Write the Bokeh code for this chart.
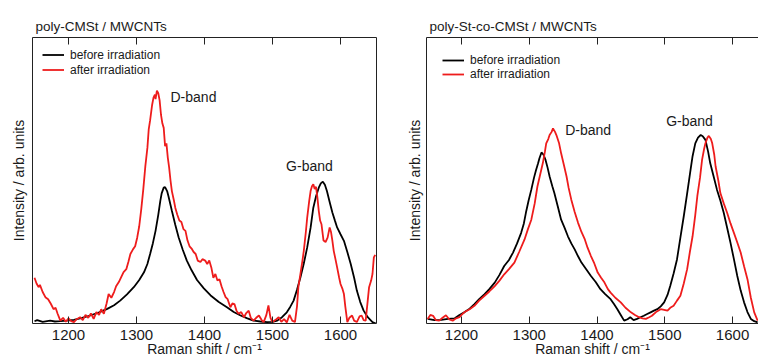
from bokeh.plotting import figure
from bokeh.models import LinearAxis, FixedTicker, Range1d, Label, Legend, LegendItem
from bokeh.layouts import row
from bokeh.embed import file_html
from bokeh.resources import INLINE

FONT = "Liberation Sans"
TXT = "#1a1a1a"
RED = "#ee1c1c"
BLK = "#000000"

x_ticks = [1200, 1300, 1400, 1500, 1600]
x_title = "Raman shift / cm\u207b\u00b9"
y_title = "Intensity / arb. units"
legend_labels = ["before irradiation", "after irradiation"]
band_labels = ["D-band", "G-band"]

# ---- left panel: poly-CMSt / MWCNTs ----
left_title = "poly-CMSt / MWCNTs"
left_before_x = [1150, 1154, 1162, 1173, 1180, 1188, 1198, 1208, 1220, 1232, 1245, 1257, 1267, 1276, 1286, 1296,
                 1304, 1311, 1316, 1320, 1324, 1328, 1332, 1335, 1337, 1340, 1342, 1345, 1347, 1352, 1357, 1362,
                 1368, 1374, 1381, 1389, 1399, 1409, 1421, 1433, 1443, 1453, 1463, 1472, 1482, 1492, 1500, 1507,
                 1514, 1521, 1526, 1531, 1536, 1541, 1546, 1551, 1556, 1560, 1564, 1568, 1571, 1574, 1577, 1580,
                 1584, 1588, 1592, 1595, 1600, 1605, 1610, 1615, 1620, 1624, 1629, 1634, 1640, 1647, 1652]
left_before_y = [0.008, 0.012, 0.006, 0.010, 0.007, 0.008, 0.010, 0.013, 0.020, 0.028, 0.039, 0.051, 0.064, 0.080, 0.102, 0.127,
                 0.152, 0.179, 0.208, 0.243, 0.280, 0.324, 0.380, 0.429, 0.455, 0.475, 0.477, 0.463, 0.445, 0.394, 0.345, 0.301,
                 0.258, 0.220, 0.186, 0.152, 0.123, 0.098, 0.075, 0.057, 0.040, 0.028, 0.018, 0.010, 0.007, 0.005, 0.006, 0.010,
                 0.022, 0.039, 0.058, 0.080, 0.118, 0.161, 0.210, 0.266, 0.335, 0.405, 0.445, 0.475, 0.490, 0.496, 0.485, 0.463,
                 0.425, 0.388, 0.358, 0.336, 0.312, 0.289, 0.250, 0.208, 0.160, 0.115, 0.075, 0.045, 0.022, 0.005, 0.000]

left_after_x = [1150, 1153, 1156, 1158, 1162, 1166, 1170, 1174, 1178, 1181, 1184, 1188, 1192, 1196, 1200, 1204, 1208,
                1212, 1217, 1221, 1225, 1229, 1233, 1237, 1241, 1245, 1248, 1252, 1256, 1259, 1263, 1267, 1270, 1274,
                1278, 1281, 1285, 1288, 1291, 1295, 1298, 1301, 1304, 1307, 1310, 1313, 1316, 1318, 1320, 1323, 1325,
                1327, 1328, 1330, 1332, 1334, 1336, 1338, 1340, 1342, 1344, 1346, 1348, 1350, 1352, 1355, 1357, 1360,
                1363, 1366, 1369, 1372, 1375, 1378, 1381, 1384, 1387, 1390, 1394, 1397, 1401, 1404, 1407, 1410, 1413,
                1416, 1419, 1422, 1425, 1428, 1431, 1434, 1438, 1441, 1444, 1447, 1450, 1454, 1458, 1461, 1465, 1468,
                1472, 1476, 1480, 1484, 1487, 1491, 1494, 1497, 1500, 1504, 1509, 1513, 1517, 1521, 1525, 1529, 1533,
                1536, 1538, 1541, 1544, 1546, 1549, 1551, 1554, 1556, 1558, 1560, 1562, 1564, 1566, 1568, 1570, 1572,
                1575, 1578, 1581, 1584, 1586, 1588, 1590, 1593, 1595, 1598, 1600, 1603, 1605, 1607, 1610, 1613, 1617,
                1620, 1624, 1628, 1631, 1634, 1637, 1640, 1642, 1645, 1647, 1649, 1651]
left_after_y = [0.160, 0.140, 0.127, 0.135, 0.110, 0.092, 0.085, 0.069, 0.050, 0.055, 0.034, 0.010, 0.020, 0.006, 0.018, 0.008, 0.005,
                0.015, 0.022, 0.012, 0.030, 0.020, 0.035, 0.016, 0.040, 0.030, 0.050, 0.034, 0.070, 0.103, 0.090, 0.110, 0.130, 0.145,
                0.165, 0.180, 0.190, 0.215, 0.243, 0.260, 0.270, 0.300, 0.340, 0.400, 0.470, 0.550, 0.614, 0.680, 0.710, 0.765, 0.790,
                0.800, 0.785, 0.814, 0.805, 0.780, 0.730, 0.700, 0.684, 0.620, 0.630, 0.580, 0.545, 0.500, 0.463, 0.430, 0.405, 0.380,
                0.360, 0.355, 0.330, 0.324, 0.290, 0.270, 0.262, 0.250, 0.243, 0.220, 0.215, 0.225, 0.220, 0.208, 0.220, 0.196, 0.160,
                0.173, 0.150, 0.155, 0.130, 0.110, 0.092, 0.085, 0.057, 0.070, 0.068, 0.045, 0.034, 0.040, 0.022, 0.035, 0.045, 0.020,
                0.010, 0.020, 0.028, 0.012, 0.005, 0.030, 0.063, 0.020, 0.005, 0.012, 0.022, 0.006, 0.015, 0.004, 0.030, 0.010, 0.005,
                0.060, 0.127, 0.173, 0.220, 0.254, 0.320, 0.370, 0.430, 0.463, 0.480, 0.487, 0.470, 0.478, 0.440, 0.394, 0.360, 0.347,
                0.290, 0.285, 0.300, 0.336, 0.320, 0.290, 0.254, 0.220, 0.196, 0.160, 0.138, 0.120, 0.103, 0.060, 0.005, 0.020, 0.028,
                0.010, 0.005, 0.025, 0.028, 0.012, 0.010, 0.080, 0.127, 0.150, 0.173, 0.231, 0.240]

# ---- right panel: poly-St-co-CMSt / MWCNTs ----
right_title = "poly-St-co-CMSt / MWCNTs"
right_before_x = [1150, 1160, 1170, 1180, 1190, 1197, 1204, 1212, 1219, 1226, 1234, 1241, 1249, 1256, 1263, 1270, 1276,
                  1282, 1288, 1292, 1295, 1299, 1303, 1307, 1310, 1313, 1315, 1318, 1321, 1324, 1327, 1330, 1334, 1337,
                  1342, 1347, 1352, 1357, 1362, 1367, 1372, 1377, 1384, 1391, 1398, 1405, 1412, 1420, 1425, 1430, 1435,
                  1440, 1445, 1449, 1454, 1459, 1464, 1469, 1474, 1479, 1484, 1489, 1494, 1499, 1504, 1508, 1513, 1518,
                  1523, 1528, 1533, 1538, 1541, 1545, 1549, 1553, 1556, 1560, 1564, 1567, 1572, 1577, 1582, 1587, 1592,
                  1597, 1602, 1607, 1612, 1617, 1622, 1627, 1632, 1637]
right_before_y = [0.016, 0.012, 0.013, 0.016, 0.018, 0.030, 0.039, 0.052, 0.068, 0.085, 0.103, 0.120, 0.143, 0.170, 0.201, 0.222, 0.248,
                  0.280, 0.317, 0.350, 0.387, 0.430, 0.468, 0.510, 0.537, 0.560, 0.578, 0.598, 0.590, 0.572, 0.545, 0.514, 0.480, 0.456,
                  0.410, 0.363, 0.335, 0.305, 0.280, 0.259, 0.235, 0.213, 0.190, 0.166, 0.145, 0.120, 0.103, 0.085, 0.068, 0.050, 0.030,
                  0.010, 0.015, 0.022, 0.012, 0.016, 0.022, 0.027, 0.033, 0.039, 0.045, 0.050, 0.060, 0.074, 0.100, 0.131, 0.175, 0.224,
                  0.300, 0.375, 0.455, 0.537, 0.585, 0.630, 0.650, 0.659, 0.655, 0.642, 0.600, 0.561, 0.515, 0.468, 0.430, 0.387, 0.335,
                  0.282, 0.225, 0.166, 0.115, 0.074, 0.040, 0.016, 0.008, 0.004]

right_after_x = [1150, 1154, 1158, 1162, 1167, 1172, 1177, 1182, 1187, 1192, 1197, 1200, 1204, 1212, 1219, 1226, 1234,
                 1241, 1249, 1256, 1263, 1270, 1278, 1285, 1293, 1298, 1303, 1308, 1312, 1316, 1320, 1323, 1325, 1328,
                 1330, 1333, 1335, 1338, 1340, 1344, 1347, 1351, 1355, 1358, 1362, 1367, 1372, 1377, 1382, 1386, 1391,
                 1396, 1401, 1406, 1411, 1416, 1420, 1427, 1435, 1442, 1450, 1456, 1462, 1467, 1472, 1477, 1481, 1487,
                 1494, 1499, 1504, 1508, 1513, 1518, 1523, 1528, 1533, 1537, 1541, 1545, 1548, 1552, 1555, 1558, 1560,
                 1563, 1565, 1568, 1570, 1573, 1575, 1579, 1582, 1587, 1592, 1597, 1602, 1607, 1612, 1617, 1622, 1627,
                 1632, 1637]
right_after_y = [0.016, 0.030, 0.027, 0.012, 0.010, 0.020, 0.029, 0.014, 0.010, 0.018, 0.022, 0.030, 0.039, 0.050, 0.062, 0.080, 0.097,
                 0.112, 0.131, 0.150, 0.172, 0.190, 0.213, 0.250, 0.294, 0.330, 0.363, 0.420, 0.479, 0.520, 0.561, 0.600, 0.630, 0.645,
                 0.659, 0.670, 0.682, 0.670, 0.659, 0.630, 0.595, 0.555, 0.514, 0.475, 0.433, 0.390, 0.352, 0.320, 0.294, 0.265, 0.236,
                 0.210, 0.178, 0.160, 0.143, 0.120, 0.108, 0.090, 0.074, 0.055, 0.039, 0.030, 0.022, 0.018, 0.016, 0.022, 0.027, 0.040,
                 0.050, 0.048, 0.045, 0.055, 0.062, 0.080, 0.097, 0.140, 0.190, 0.250, 0.305, 0.380, 0.445, 0.510, 0.572, 0.610, 0.630,
                 0.650, 0.656, 0.645, 0.630, 0.590, 0.549, 0.500, 0.456, 0.420, 0.387, 0.350, 0.317, 0.283, 0.248, 0.200, 0.155, 0.090,
                 0.039, 0.010]

# label anchor positions (data coords)
left_band_pos = [(1350, 0.793), (1520, 0.549)]
right_band_pos = [(1353, 0.678), (1502, 0.708)]


def make_panel(title, width, x_start, x_end, min_left, min_right, top, bottom,
               bx, by, ax, ay, band_pos, legend_margin, legend_row_h, has_right, ylab_standoff, title_standoff):
    p = figure(width=width, height=360, output_backend="svg", toolbar_location=None,
               x_range=Range1d(x_start, x_end), y_range=Range1d(0, 1),
               min_border_left=min_left, min_border_right=min_right,
               min_border_top=top, min_border_bottom=bottom,
               x_axis_location=None, y_axis_location=None)
    p.outline_line_color = None
    p.xgrid.visible = False
    p.ygrid.visible = False
    p.background_fill_color = "white"
    p.border_fill_color = "white"

    p.title.text = title
    p.title.text_font = FONT
    p.title.text_font_size = "13.5px"
    p.title.text_font_style = "normal"
    p.title.text_color = TXT
    p.title.align = "left"
    p.title.offset = 3
    p.title.standoff = title_standoff

    xb = LinearAxis(ticker=FixedTicker(ticks=x_ticks), axis_label=x_title)
    xb.major_tick_in = 7
    xb.major_tick_out = 0
    xb.minor_tick_line_color = None
    xb.major_label_text_font = FONT
    xb.major_label_text_font_size = "15px"
    xb.major_label_text_color = TXT
    xb.major_label_standoff = 6
    xb.axis_label_text_font = FONT
    xb.axis_label_text_font_size = "14px"
    xb.axis_label_text_font_style = "normal"
    xb.axis_label_text_color = TXT
    xb.axis_label_standoff = -2
    xb.axis_line_color = "#222222"
    xb.major_tick_line_color = "#222222"
    p.add_layout(xb, "below")

    # top frame edge with inward ticks, labels hidden (not drawn)
    xt = LinearAxis(ticker=FixedTicker(ticks=x_ticks))
    xt.major_tick_in = 7
    xt.major_tick_out = 0
    xt.minor_tick_line_color = None
    xt.major_label_text_font_size = "0px"
    xt.major_label_text_alpha = 0
    xt.major_label_text_color = None
    xt.major_label_standoff = 0
    xt.axis_line_color = "#222222"
    xt.major_tick_line_color = "#222222"
    p.add_layout(xt, "above")

    yl = LinearAxis(ticker=FixedTicker(ticks=[]), axis_label=y_title)
    yl.major_tick_in = 0
    yl.major_tick_out = 0
    yl.minor_tick_line_color = None
    yl.major_label_text_alpha = 0
    yl.major_label_text_color = None
    yl.major_label_standoff = 0
    yl.axis_label_text_font = FONT
    yl.axis_label_text_font_size = "14px"
    yl.axis_label_text_font_style = "normal"
    yl.axis_label_text_color = TXT
    yl.axis_label_standoff = ylab_standoff
    yl.axis_line_color = "#222222"
    p.add_layout(yl, "left")

    if has_right:
        yr = LinearAxis(ticker=FixedTicker(ticks=[]))
        yr.major_tick_in = 0
        yr.major_tick_out = 0
        yr.minor_tick_line_color = None
        yr.major_label_text_alpha = 0
        yr.major_label_text_color = None
        yr.major_label_standoff = 0
        yr.axis_line_color = "#222222"
        p.add_layout(yr, "right")

    r_before = p.line(bx, by, line_color=BLK, line_width=1.8)
    r_after = p.line(ax, ay, line_color=RED, line_width=1.8)

    leg = Legend(items=[LegendItem(label=legend_labels[0], renderers=[r_before]),
                        LegendItem(label=legend_labels[1], renderers=[r_after])],
                 location="top_left", margin=legend_margin, padding=0, spacing=0,
                 label_height=legend_row_h, glyph_height=legend_row_h, glyph_width=22,
                 label_standoff=6, label_text_font=FONT, label_text_font_size="12px",
                 label_text_color=TXT, border_line_color=None, background_fill_alpha=0)
    p.add_layout(leg)

    for txt, (lx, ly) in zip(band_labels, band_pos):
        p.add_layout(Label(x=lx, y=ly, text=txt, text_font=FONT, text_font_size="14px",
                           text_color=TXT, text_align="left", text_baseline="middle"))
    return p


p1 = make_panel(left_title, 380, 1147.06, 1652.9, 32, 4, 36, 37,
                left_before_x, left_before_y, left_after_x, left_after_y, left_band_pos,
                10, 15, True, 6, 8)
p2 = make_panel(right_title, 378, 1148.3, 1638.3, 46, 0, 37, 36,
                right_before_x, right_before_y, right_after_x, right_after_y, right_band_pos,
                16, 14, False, 4, 7)

layout = row(p1, p2, spacing=0)
open("out.html", "w").write(file_html(layout, INLINE))
